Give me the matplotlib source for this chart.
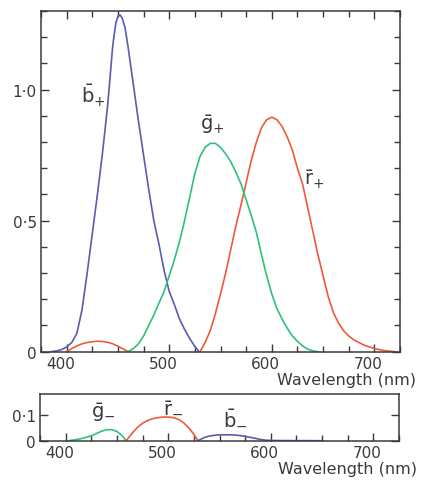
import matplotlib
matplotlib.use('Agg')
import matplotlib.pyplot as plt
import matplotlib.ticker as mtick
import matplotlib.transforms as mtrans

# colour matching functions, positive lobes
wl_b_plus = [385, 390, 395, 400, 405, 410, 415, 420, 425, 430, 435, 440, 445, 448, 450, 452,
             454, 457, 460, 465, 470, 475, 480, 485, 490, 495, 500, 505, 510, 515, 520, 525, 529]
b_plus = [0, 0.003, 0.008, 0.018, 0.035, 0.07, 0.16, 0.30, 0.45, 0.60, 0.76, 0.94, 1.17, 1.255, 1.28, 1.285,
          1.275, 1.235, 1.16, 1.02, 0.88, 0.75, 0.62, 0.50, 0.41, 0.31, 0.23, 0.18, 0.125, 0.085, 0.05, 0.02, 0]

wl_r_lump = [400, 405, 410, 415, 420, 425, 430, 435, 440, 445, 450, 455, 460]
r_lump = [0, 0.012, 0.022, 0.030, 0.035, 0.038, 0.040, 0.039, 0.036, 0.030, 0.021, 0.011, 0]

wl_r_plus = [530, 535, 540, 545, 550, 555, 560, 565, 570, 575, 580, 585, 590, 595, 600, 605, 610,
             615, 620, 625, 630, 635, 640, 645, 650, 655, 660, 665, 670, 675, 680, 690, 700, 710, 720]
r_plus = [0, 0.035, 0.08, 0.145, 0.22, 0.30, 0.39, 0.48, 0.56, 0.645, 0.73, 0.80, 0.855, 0.885, 0.895, 0.885, 0.86,
          0.82, 0.77, 0.70, 0.64, 0.55, 0.46, 0.37, 0.29, 0.21, 0.15, 0.11, 0.08, 0.06, 0.045, 0.025, 0.012, 0.004, 0]

wl_g_plus = [460, 465, 470, 475, 480, 485, 490, 495, 500, 505, 510, 515, 520, 525, 530, 535, 540, 545,
             550, 555, 560, 565, 570, 575, 580, 585, 590, 595, 600, 605, 610, 615, 620, 625, 630, 635, 640, 645]
g_plus = [0, 0.012, 0.03, 0.06, 0.10, 0.14, 0.185, 0.23, 0.29, 0.35, 0.42, 0.50, 0.59, 0.68, 0.745, 0.78, 0.795, 0.795,
          0.78, 0.755, 0.725, 0.685, 0.64, 0.58, 0.52, 0.455, 0.37, 0.29, 0.22, 0.165, 0.125, 0.09, 0.06, 0.04, 0.022, 0.01, 0.003, 0]

# negative lobes (drawn as magnitudes in the lower panel)
wl_g_minus = [403, 410, 415, 420, 425, 430, 435, 440, 445, 450, 455, 459]
g_minus = [0, 0.004, 0.008, 0.013, 0.019, 0.028, 0.037, 0.043, 0.043, 0.036, 0.02, 0]

wl_r_minus = [459, 465, 470, 475, 480, 485, 490, 495, 500, 505, 510, 515, 520, 525, 529]
r_minus = [0, 0.03, 0.052, 0.068, 0.079, 0.086, 0.09, 0.092, 0.092, 0.09, 0.083, 0.07, 0.05, 0.025, 0]

wl_b_minus = [529, 535, 540, 545, 550, 555, 560, 565, 570, 575, 580, 585, 590, 595, 600, 610, 650]
b_minus = [0, 0.012, 0.018, 0.021, 0.023, 0.023, 0.023, 0.022, 0.02, 0.017, 0.013, 0.009, 0.005, 0.002, 0.001, 0.0005, 0]

blue = '#5b5bb0'
green = '#2fc07a'
red = '#ef5a38'
ink = '#3a3a3a'
lw = 1.2
fs = 11

fig = plt.figure(figsize=(4.22, 4.81), dpi=100)
ax1 = fig.add_axes([41 / 422, 128.3 / 481, 359 / 422, 340.7 / 481])
ax2 = fig.add_axes([40 / 422, 39.3 / 481, 359 / 422, 46.7 / 481])

# top panel
ax1.plot(wl_b_plus, b_plus, color=blue, lw=lw)
ax1.plot(wl_r_lump, r_lump, color=red, lw=lw)
ax1.plot(wl_r_plus, r_plus, color=red, lw=lw)
ax1.plot(wl_g_plus, g_plus, color=green, lw=lw)
ax1.set_xlim(375, 725)
ax1.set_ylim(0, 1.3)
ax1.set_yticks([0, 0.5, 1.0])
ax1.set_yticklabels(['0', '0·5', '1·0'])
ax1.yaxis.set_minor_locator(mtick.MultipleLocator(0.1))
ax1.tick_params(which='both', direction='in', top=True, right=True, colors=ink,
                labelsize=fs, pad=3)

ax1.text(426, 0.98, r'$\bar{\mathrm{b}}_{+}$', fontsize=14, color=ink, ha='center', va='center')
ax1.text(542, 0.87, r'$\bar{\mathrm{g}}_{+}$', fontsize=14, color=ink, ha='center', va='center')
ax1.text(641, 0.66, r'$\bar{\mathrm{r}}_{+}$', fontsize=14, color=ink, ha='center', va='center')
ax1.text(1.045, -0.06, 'Wavelength (nm)', transform=ax1.transAxes, ha='right', va='top',
         fontsize=11.5, color=ink)

# bottom panel
ax2.plot(wl_g_minus, g_minus, color=green, lw=lw)
ax2.plot(wl_r_minus, r_minus, color=red, lw=lw)
ax2.plot(wl_b_minus, b_minus, color=blue, lw=lw)
ax2.set_xlim(375, 725)
ax2.set_ylim(0, 0.182)
ax2.set_yticks([0, 0.1])
ax2.set_yticklabels(['0', '0·1'])
ax2.tick_params(which='both', direction='in', right=True, colors=ink, labelsize=fs, pad=3)

ax2.text(437, 0.112, r'$\bar{\mathrm{g}}_{-}$', fontsize=14, color=ink, ha='center', va='center')
ax2.text(505, 0.135, r'$\bar{\mathrm{r}}_{-}$', fontsize=14, color=ink, ha='center', va='center')
ax2.text(565, 0.088, r'$\bar{\mathrm{b}}_{-}$', fontsize=14, color=ink, ha='center', va='center')
ax2.text(1.05, -0.44, 'Wavelength (nm)', transform=ax2.transAxes, ha='right', va='top',
         fontsize=11.5, color=ink)

shift = mtrans.ScaledTranslation(-6 / 100, 0, fig.dpi_scale_trans)
for ax in (ax1, ax2):
    ax.set_xticks([400, 500, 600, 700])
    ax.xaxis.set_minor_locator(mtick.MultipleLocator(25))
    ax.tick_params(which='major', length=6, width=1)
    ax.tick_params(which='minor', length=4, width=1)
    for s in ax.spines.values():
        s.set_color(ink)
        s.set_linewidth(1.1)
    for lab in ax.get_xticklabels():
        lab.set_transform(lab.get_transform() + shift)

plt.savefig('out.png', dpi=100)
plt.close()
